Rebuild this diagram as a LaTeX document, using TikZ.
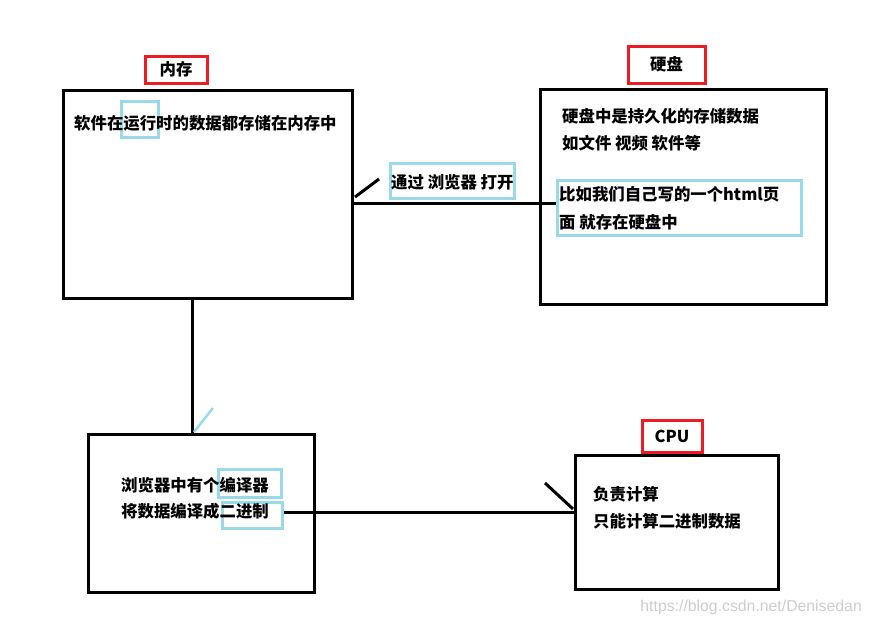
\documentclass[tikz,border=0pt]{standalone}
\usepackage{fontspec}
\setmainfont{Liberation Sans}
\newfontfamily\cjk{Noto Sans CJK SC}
\definecolor{pred}{RGB}{237,28,36}
\definecolor{pblue}{RGB}{153,217,234}
\definecolor{wm}{RGB}{205,205,205}
\begin{document}
\begin{tikzpicture}[x=1pt,y=-1pt,
  box/.style={draw=black,line width=3pt,inner sep=0pt},
  redbox/.style={draw=pred,line width=3pt,inner sep=0pt,font=\cjk\bfseries\fontsize{16.4}{18}\selectfont},
  bluebox/.style={draw=pblue,line width=3pt,inner sep=0pt},
  txt/.style={inner sep=0pt,anchor=west,font=\cjk\bfseries\fontsize{16.4}{18}\selectfont},
  conn/.style={line width=3pt}]
\useasboundingbox (0,0) rectangle (870,624);
% main boxes
\node[box,minimum width=289pt,minimum height=208pt] (mem) at (207.5,194.5) {};
\node[box,minimum width=286pt,minimum height=215pt] (hd) at (683,196.5) {};
\node[box,minimum width=226pt,minimum height=158pt] (brw) at (201,513) {};
\node[box,minimum width=203pt,minimum height=134pt] (cpu) at (676.5,522) {};
% red labels
\node[redbox,minimum width=62pt,minimum height=27pt] (memlbl) at (176,69.5) {\raisebox{-3pt}{内存}};
\node[redbox,minimum width=77pt,minimum height=37pt] (hdlbl) at (666.5,64.5) {\raisebox{-6pt}{硬盘}};
\node[redbox,minimum width=60pt,minimum height=32pt] (cpulbl) at (672,436) {\raisebox{-2pt}{CPU}};
% blue highlight boxes
\node[bluebox,minimum width=37pt,minimum height=36pt] (run) at (139.5,119) {};
\node[bluebox,minimum width=124pt,minimum height=35pt] (open) at (452,180.5) {};
\node[bluebox,minimum width=244pt,minimum height=55pt] (hdnote) at (679,207.5) {};
\node[bluebox,minimum width=63pt,minimum height=28pt] (comp) at (249.5,483) {};
\node[bluebox,minimum width=60pt,minimum height=26pt] (bin) at (252,515) {};
% texts
\node[txt] (t1) at (74,123) {软件在运行时的数据都存储在内存中};
\node[txt] (t2) at (391,182) {通过 浏览器 打开};
\node[txt] (t3) at (562,116) {硬盘中是持久化的存储数据};
\node[txt] (t4) at (562,143) {如文件 视频 软件等};
\node[txt] (t5) at (559,194) {比如我们自己写的一个html页};
\node[txt] (t6) at (559,222) {面 就存在硬盘中};
\node[txt] (t7) at (121,485) {浏览器中有个编译器};
\node[txt] (t8) at (121,511) {将数据编译成二进制};
\node[txt] (t9) at (593,494) {负责计算};
\node[txt] (t10) at (593,521) {只能计算二进制数据};
\node[inner sep=0pt,anchor=east,text=wm,font=\fontsize{15.8}{18}\selectfont] (wmk) at (862,607) {https://blog.csdn.net/Denisedan};
% connectors
\draw[conn] (mem.east |- 0,203) -- (hdnote.west |- 0,203);
\coordinate (k1a) at (355,197);
\coordinate (k1b) at (379,179);
\draw[conn] (k1a) -- (k1b);
\draw[conn] (mem.south -| 192,0) -- (brw.north -| 192,0);
\coordinate (k2a) at (194,432);
\coordinate (k2b) at (213,408);
\draw[line width=2.5pt,pblue] (k2a) -- (k2b);
\draw[conn] (bin.east |- 0,512) -- (cpu.west |- 0,512);
\coordinate (k3a) at (545,483);
\coordinate (k3b) at (573,509);
\draw[conn] (k3a) -- (k3b);
\end{tikzpicture}
\end{document}
